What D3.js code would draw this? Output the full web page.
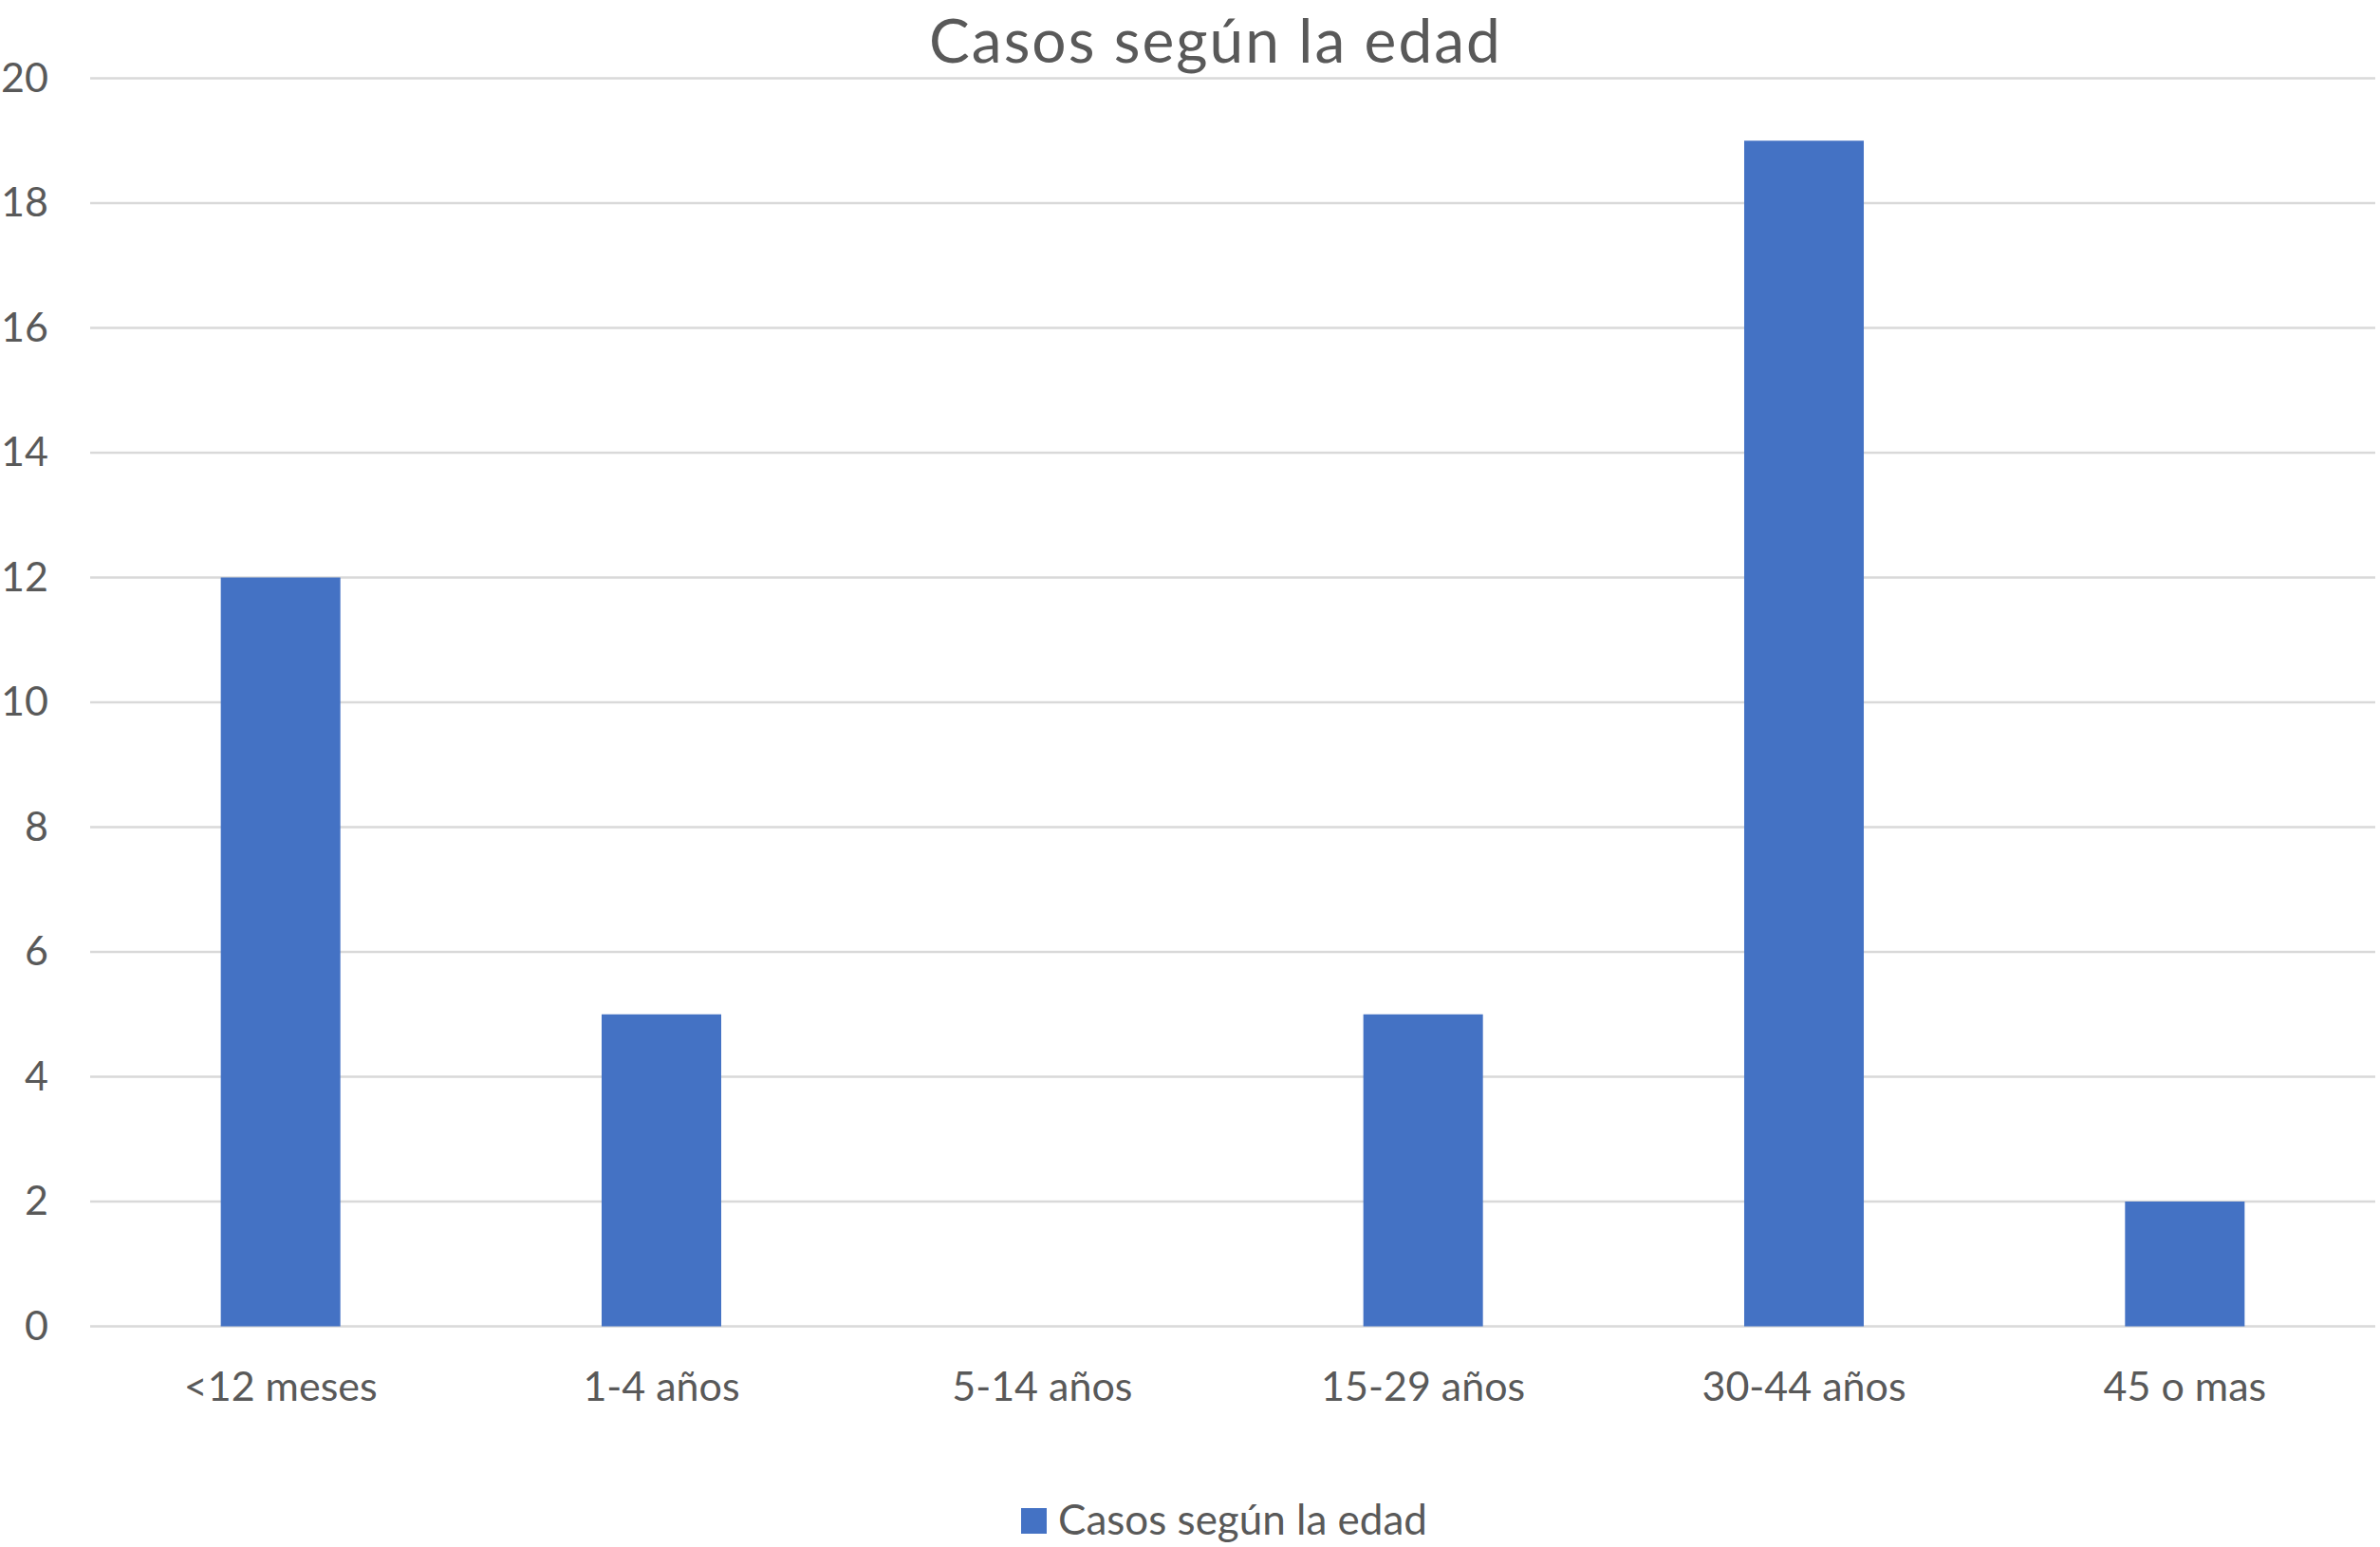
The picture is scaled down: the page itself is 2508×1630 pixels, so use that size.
<!DOCTYPE html>
<html><head><meta charset="utf-8">
<script src="https://cdn.jsdelivr.net/npm/d3@7"></script>
<style>body{margin:0;background:#fff}svg{display:block}text{font-family:Lato,"Open Sans",sans-serif;fill:#595959}</style>
</head><body>
<script>
const categories = ["<12 meses","1-4 años","5-14 años","15-29 años","30-44 años","45 o mas"];
const values = [12,5,0,5,19,2];
const yTicks = [0,2,4,6,8,10,12,14,16,18,20];
const title = "Casos según la edad";
const seriesName = "Casos según la edad";

const W = 2508, H = 1630;
const m = {left:95, right:5, top:82.5, bottom:232.5};
const svg = d3.select("body").append("svg").attr("width",W).attr("height",H);

const x = d3.scaleBand().domain(categories).range([m.left, W-m.right]).paddingInner(0.686).paddingOuter(0.343);
const y = d3.scaleLinear().domain([0,20]).range([H-m.bottom, m.top]);

// gridlines
svg.append("g").selectAll("line").data(yTicks).join("line")
  .attr("x1", m.left).attr("x2", W-m.right)
  .attr("y1", d=>y(d)).attr("y2", d=>y(d))
  .attr("stroke","#D9D9D9").attr("stroke-width",2.5);

// y axis labels
const yAxis = d3.axisLeft(y).tickValues(yTicks).tickSize(0).tickPadding(0);
const gy = svg.append("g").attr("transform",`translate(${m.left-44},0)`).call(yAxis);
gy.select(".domain").remove();
gy.selectAll("text").style("font-size","43px").attr("fill","#595959");

// bars
svg.append("g").selectAll("rect").data(values).join("rect")
  .attr("x",(d,i)=>x(categories[i])).attr("width",x.bandwidth())
  .attr("y",d=>y(d)).attr("height",d=>y(0)-y(d))
  .attr("fill","#4472C4");

// x axis labels
const xAxis = d3.axisBottom(x).tickSize(0).tickPadding(0);
const gx = svg.append("g").attr("transform",`translate(0,${y(0)+48})`).call(xAxis);
gx.select(".domain").remove();
gx.selectAll("text").style("font-size","43px").attr("fill","#595959").attr("dy","0.71em").attr("y",0);

// title
svg.append("text").attr("x",(m.left+W-m.right)/2 - 18).attr("y",66)
  .attr("text-anchor","middle").style("font-size","64px").style("letter-spacing","2px").text(title);

// legend
const lg = svg.append("g");
lg.append("rect").attr("x",1076).attr("y",1589).attr("width",27).attr("height",27).attr("fill","#4472C4");
lg.append("text").attr("x",1115).attr("y",1617).style("font-size","44px").text(seriesName);
</script>
</body></html>
